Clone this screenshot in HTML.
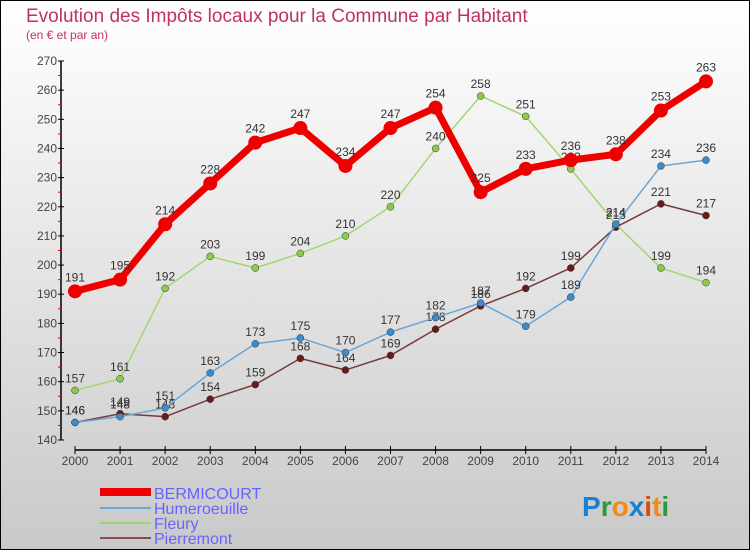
<!DOCTYPE html>
<html><head><meta charset="utf-8"><style>
body{margin:0}
#c{position:relative;width:748px;height:548px;border:1px solid #000;background:linear-gradient(#fff,#c9c9c9);font-family:"Liberation Sans",sans-serif;overflow:hidden}
svg{position:absolute;left:-1px;top:-1px}
</style></head><body>
<div id="c">
<svg id="s" width="750" height="550">
<text x="26" y="22" font-size="19" fill="#c0306a">Evolution des Impôts locaux pour la Commune par Habitant</text>
<text x="26" y="39" font-size="12" fill="#c0306a">(en € et par an)</text>
<g id="ax"></g><g id="pl"></g>
<g>
<rect x="100" y="488" width="51" height="8" fill="#e00"/>
<text x="154" y="499" font-size="16" fill="#6464ff">BERMICOURT</text>
<line x1="100" x2="151" y1="508" y2="508" stroke="#6aa6d6" stroke-width="2"/>
<text x="154" y="514" font-size="16" fill="#6464ff">Humeroeuille</text>
<line x1="100" x2="151" y1="523" y2="523" stroke="#9ad46e" stroke-width="2"/>
<text x="154" y="529" font-size="16" fill="#6464ff">Fleury</text>
<line x1="100" x2="151" y1="538" y2="538" stroke="#8a4a4a" stroke-width="2"/>
<text x="154" y="544" font-size="16" fill="#6464ff">Pierremont</text>
</g>
<g font-size="28" font-weight="bold">
<text x="582" y="516"><tspan fill="#1a7fd0">P</tspan><tspan fill="#2a9a3a">r</tspan><tspan fill="#f08a10">o</tspan><tspan fill="#1a7fd0">x</tspan><tspan fill="#e04a10">i</tspan><tspan fill="#f08a10">t</tspan><tspan fill="#2a9a3a">i</tspan></text>
</g>
</svg></div>
<script>
const years=[2000,2001,2002,2003,2004,2005,2006,2007,2008,2009,2010,2011,2012,2013,2014];
const yTicks=[140,150,160,170,180,190,200,210,220,230,240,250,260,270];
const bermicourt=[191,195,214,228,242,247,234,247,254,225,233,236,238,253,263];
const humeroeuille=[146,148,151,163,173,175,170,177,182,187,179,189,214,234,236];
const fleury=[157,161,192,203,199,204,210,220,240,258,251,233,214,199,194];
const pierremont=[146,149,148,154,159,168,164,169,178,186,192,199,213,221,217];
const NS="http://www.w3.org/2000/svg";
const X=i=>75+i*(706-75)/(years.length-1);
const Y=v=>440-(v-140)*(440-61)/130;
function mk(t,a,p){const e=document.createElementNS(NS,t);for(const k in a)e.setAttribute(k,a[k]);p.appendChild(e);return e;}
const ax=document.getElementById('ax'),pl=document.getElementById('pl');
let e=mk('line',{x1:61,x2:61,y1:61,y2:440,stroke:'#000','stroke-width':1.5},ax);


e=mk('line',{x1:75,x2:706,y1:450,y2:450,stroke:'#000','stroke-width':1.5},ax);


yTicks.forEach((v,i)=>{
 mk('line',{x1:58,x2:64,y1:Y(v),y2:Y(v),stroke:'#000'},ax);
 if(i<yTicks.length-1)mk('line',{x1:58,x2:61,y1:Y(v+5),y2:Y(v+5),stroke:'#e00'},ax);
 const t=mk('text',{x:57,y:Y(v)+4,'font-size':12,fill:'#444','text-anchor':'end'},ax);t.textContent=v;
 
 
});
years.forEach((y,i)=>{
 mk('line',{x1:X(i),x2:X(i),y1:446,y2:454,stroke:'#000'},ax);
 const t=mk('text',{x:X(i),y:465,'font-size':12,fill:'#444','text-anchor':'middle'},ax);t.textContent=y;
 
 
});
function series(d,col,dot,w,r,name,thick){
 const g=mk('g',{},pl);
 
 
 mk('polyline',{points:d.map((v,i)=>X(i)+','+Y(v)).join(' '),fill:'none',stroke:col,'stroke-width':w,'stroke-linejoin':'round'},g);
 d.forEach((v,i)=>{
  const c=mk('circle',{cx:X(i),cy:Y(v),r:r,fill:dot,stroke:thick?'none':'#333','stroke-width':0.5},g);
  
  
  const t=mk('text',{x:X(i),y:Y(v)-(thick?10:8),'font-size':12,fill:'#333','text-anchor':'middle'},g);t.textContent=v;
 });
}
series(pierremont,'#7a3a3a','#6a1a1a',1.5,3.5,'pierremont');
series(fleury,'#a0d870','#8acb4a',1.5,3.5,'fleury');
series(humeroeuille,'#6aa6d6','#3a8ccc',1.5,3.5,'humeroeuille');
series(bermicourt,'#ee0000','#ee0000',7,7,'bermicourt',true);
</script>
</body></html>
